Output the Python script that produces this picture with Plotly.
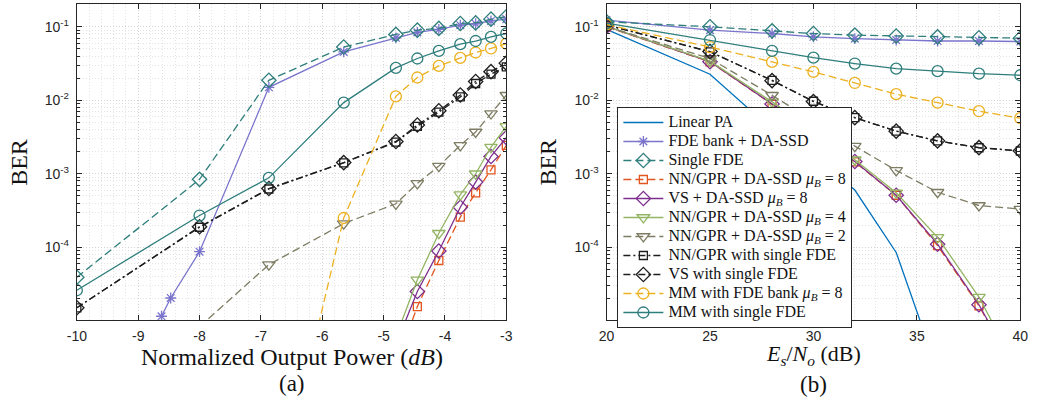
import plotly.graph_objects as go

# ---------------- data: panel (a) ----------------
P_common = [-10, -8, -6.87, -5.65, -4.8, -4.45, -4.1, -3.75, -3.5, -3.25, -3]

a_fde_bank_x = [-8.62, -8.47, -8, -6.87, -5.65, -4.8, -4.45, -4.1, -3.75, -3.5, -3.25, -3]
a_fde_bank_y = [1.15e-5, 2.04e-5, 8.7e-5, 0.015, 0.0456, 0.0708, 0.084, 0.092, 0.105, 0.11, 0.12, 0.127]

a_single_fde_y = [3.9e-5, 8.4e-4, 0.0187, 0.053, 0.0787, 0.090, 0.095, 0.111, 0.113, 0.127, 0.137]

a_nn8_x = [-4.8, -4.45, -4.1, -3.75, -3.5, -3.25, -3]
a_nn8_y = [2.5e-6, 1.56e-5, 6.6e-5, 2.57e-4, 5.5e-4, 1.13e-3, 2.43e-3]

a_vs8_x = [-4.8, -4.45, -4.1, -3.75, -3.5, -3.25, -3]
a_vs8_y = [4.7e-6, 2.5e-5, 8.9e-5, 3.5e-4, 7.7e-4, 1.72e-3, 3.1e-3]

a_nn4_x = [-4.8, -4.45, -4.1, -3.75, -3.5, -3.25, -3]
a_nn4_y = [6e-6, 3.6e-5, 1.55e-4, 5.2e-4, 1.0e-3, 2.3e-3, 4.4e-3]

a_nn2_x = [-8, -6.87, -5.65, -4.8, -4.45, -4.1, -3.75, -3.5, -3.25, -3]
a_nn2_y = [8.3e-6, 5.8e-5, 2.1e-4, 3.9e-4, 7.4e-4, 1.27e-3, 2.43e-3, 3.7e-3, 6.6e-3, 0.0117]

a_nn_single_y = [1.5e-5, 1.87e-4, 6.2e-4, 1.41e-3, 2.7e-3, 4.4e-3, 6.9e-3, 0.0111, 0.0169, 0.0227, 0.0285]
a_vs_single_y = [1.5e-5, 1.9e-4, 6.3e-4, 1.42e-3, 2.75e-3, 4.6e-3, 7.2e-3, 0.0118, 0.018, 0.0245, 0.032]

a_mm_bank_x = [-6.87, -5.65, -4.8, -4.45, -4.1, -3.75, -3.5, -3.25, -3]
a_mm_bank_y = [1.2e-8, 2.5e-4, 0.0113, 0.0204, 0.0294, 0.0378, 0.0447, 0.0507, 0.059]

a_mm_single_y = [2.6e-5, 2.7e-4, 8.8e-4, 9.3e-3, 0.0276, 0.037, 0.047, 0.058, 0.064, 0.073, 0.081]

# ---------------- data: panel (b) ----------------
EsNo = [20, 25, 28, 30, 32, 34, 36, 38, 40]
EsNo_linear = [20, 25, 28, 30, 32, 34, 36]

b_linear_y = [0.092, 0.0226, 4.0e-3, 1.8e-3, 6.0e-4, 8.5e-5, 2.1e-6]
b_fde_bank_y = [0.123, 0.090, 0.081, 0.073, 0.069, 0.066, 0.064, 0.064, 0.063]
b_single_fde_y = [0.117, 0.100, 0.088, 0.081, 0.077, 0.075, 0.073, 0.071, 0.070]
b_nn8_y = [0.100, 0.0333, 0.0088, 0.0036, 1.45e-3, 5.1e-4, 1.05e-4, 1.6e-5, 1.5e-6]
b_vs8_y = [0.101, 0.0335, 0.0089, 0.0036, 1.47e-3, 5.1e-4, 1.1e-4, 1.65e-5, 1.6e-6]
b_nn4_y = [0.101, 0.034, 0.0095, 0.0039, 1.55e-3, 5.5e-4, 1.36e-4, 2.1e-5, 1.8e-6]
b_nn2_y = [0.101, 0.037, 0.0117, 0.0052, 2.38e-3, 1.11e-3, 5.6e-4, 3.7e-4, 3.3e-4]
b_nn_single_y = [0.105, 0.0456, 0.0187, 0.0097, 5.8e-3, 3.8e-3, 2.8e-3, 2.26e-3, 2.04e-3]
b_vs_single_y = [0.106, 0.046, 0.0185, 0.0096, 5.8e-3, 3.8e-3, 2.8e-3, 2.27e-3, 2.05e-3]
b_mm_bank_y = [0.107, 0.053, 0.0333, 0.0243, 0.0172, 0.0121, 0.0093, 0.0071, 0.0057]
b_mm_single_y = [0.112, 0.066, 0.047, 0.038, 0.0316, 0.027, 0.0249, 0.023, 0.0219]

a_xticks = [-10, -9, -8, -7, -6, -5, -4, -3]
a_xticklabels = ["-10", "-9", "-8", "-7", "-6", "-5", "-4", "-3"]
b_xticks = [20, 25, 30, 35, 40]
b_xticklabels = ["20", "25", "30", "35", "40"]
y_ticks = [1e-4, 1e-3, 1e-2, 1e-1]
y_ticklabels = ["10<sup>-4</sup>", "10<sup>-3</sup>", "10<sup>-2</sup>", "10<sup>-1</sup>"]

mu = "<i>μ</i><sub><i>B</i></sub>"
names = {
    "linear": "Linear PA",
    "fde_bank": "FDE bank + DA-SSD",
    "single": "Single FDE",
    "nn8": "NN/GPR + DA-SSD " + mu + " = 8",
    "vs8": "VS + DA-SSD " + mu + " = 8",
    "nn4": "NN/GPR + DA-SSD " + mu + " = 4",
    "nn2": "NN/GPR + DA-SSD " + mu + " = 2",
    "nn_single": "NN/GPR with single FDE",
    "vs_single": "VS with single FDE",
    "mm_bank": "MM with FDE bank " + mu + " = 8",
    "mm_single": "MM with single FDE",
}

C_BLUE = "#0072BD"
C_FDEB = "#7A74CC"
C_TEAL = "#2E7E7C"
C_ORNG = "#E2561F"
C_PURP = "#7E2F8E"
C_GRN = "#93B564"
C_OLIV = "#7E7D63"
C_BLK = "#1E1E1E"
C_YEL = "#EDB120"

DASH = "8px,4px"
DASHDOT = "7px,3px,2px,3px"
LW = 1.3

styles = {
    "linear": dict(color=C_BLUE, dash="solid", symbol=None, size=0),
    "fde_bank": dict(color=C_FDEB, dash="solid", symbol="asterisk-open", size=9),
    "single": dict(color=C_TEAL, dash=DASH, symbol="diamond-open", size=11),
    "nn8": dict(color=C_ORNG, dash=DASH, symbol="square-open", size=8),
    "vs8": dict(color=C_PURP, dash="solid", symbol="diamond-open", size=11),
    "nn4": dict(color=C_GRN, dash="solid", symbol="triangle-down-open", size=11),
    "nn2": dict(color=C_OLIV, dash=DASH, symbol="triangle-down-open", size=11),
    "nn_single": dict(color=C_BLK, dash=DASHDOT, symbol="square-open", size=8),
    "vs_single": dict(color=C_BLK, dash=DASHDOT, symbol="diamond-open", size=11),
    "mm_bank": dict(color=C_YEL, dash=DASH, symbol="circle-open", size=11),
    "mm_single": dict(color=C_TEAL, dash="solid", symbol="circle-open", size=11),
}

fig = go.Figure()


def add(key, x, y, xa, ya, showlegend):
    s = styles[key]
    mode = "lines" if s["symbol"] is None else "lines+markers"
    tr = dict(
        x=x, y=y, mode=mode, xaxis=xa, yaxis=ya,
        name="<span style='font-size:16px'>" + names[key] + "</span>",
        showlegend=showlegend, legendgroup=key,
        line=dict(color=s["color"], width=LW, dash=s["dash"]),
    )
    if s["symbol"] is not None:
        tr["marker"] = dict(symbol=s["symbol"], size=s["size"], color=s["color"],
                            line=dict(color=s["color"], width=1.3))
    fig.add_trace(go.Scatter(**tr))


# panel (a)
add("fde_bank", a_fde_bank_x, a_fde_bank_y, "x", "y", False)
add("single", P_common, a_single_fde_y, "x", "y", False)
add("nn8", a_nn8_x, a_nn8_y, "x", "y", False)
add("vs8", a_vs8_x, a_vs8_y, "x", "y", False)
add("nn4", a_nn4_x, a_nn4_y, "x", "y", False)
add("nn2", a_nn2_x, a_nn2_y, "x", "y", False)
add("nn_single", P_common, a_nn_single_y, "x", "y", False)
add("vs_single", P_common, a_vs_single_y, "x", "y", False)
add("mm_bank", a_mm_bank_x, a_mm_bank_y, "x", "y", False)
add("mm_single", P_common, a_mm_single_y, "x", "y", False)

# panel (b)
add("linear", EsNo_linear, b_linear_y, "x2", "y2", True)
add("fde_bank", EsNo, b_fde_bank_y, "x2", "y2", True)
add("single", EsNo, b_single_fde_y, "x2", "y2", True)
add("nn8", EsNo, b_nn8_y, "x2", "y2", True)
add("vs8", EsNo, b_vs8_y, "x2", "y2", True)
add("nn4", EsNo, b_nn4_y, "x2", "y2", True)
add("nn2", EsNo, b_nn2_y, "x2", "y2", True)
add("nn_single", EsNo, b_nn_single_y, "x2", "y2", True)
add("vs_single", EsNo, b_vs_single_y, "x2", "y2", True)
add("mm_bank", EsNo, b_mm_bank_y, "x2", "y2", True)
add("mm_single", EsNo, b_mm_single_y, "x2", "y2", True)

W, H = 1047, 403
AX = "#262626"
GRID = "#d4d4d4"
MGRID = "#e4e4e4"
GDASH = "1px,2px"
TICKFONT = dict(family="Liberation Sans, Arial, sans-serif", size=14, color=AX)
SERIF = "Liberation Serif, Times New Roman, serif"

minor_y = [k * 10.0 ** e for e in range(-6, 0) for k in range(2, 10)]

ydom = [(H - 320) / H, (H - 4) / H]
common_x = dict(showline=True, linecolor=AX, linewidth=1, mirror="ticks",
                ticks="inside", ticklen=5, tickcolor=AX, tickwidth=1,
                showgrid=True, gridcolor=GRID, griddash=GDASH, gridwidth=1,
                zeroline=False, tickfont=TICKFONT, tickmode="array",
                ticklabelstandoff=3)
common_y = dict(type="log", range=[-4.99, -0.69], showline=True, linecolor=AX,
                linewidth=1, mirror="ticks", ticks="inside", ticklen=5,
                tickcolor=AX, tickwidth=1, showgrid=True, gridcolor=GRID,
                griddash=GDASH, gridwidth=1, zeroline=False, tickfont=TICKFONT,
                tickmode="array", tickvals=y_ticks, ticktext=y_ticklabels,
                domain=ydom, ticklabelstandoff=4,
                minor=dict(tickmode="array", tickvals=minor_y, ticks="inside",
                           ticklen=3, tickcolor=AX, showgrid=True,
                           gridcolor=MGRID, griddash=GDASH, gridwidth=1))

fig.update_layout(
    width=W, height=H,
    margin=dict(l=0, r=0, t=0, b=0),
    paper_bgcolor="white", plot_bgcolor="white",
    xaxis=dict(common_x, domain=[68 / W, 505 / W], range=[-10, -3],
               tickvals=a_xticks, ticktext=a_xticklabels, anchor="y",
               minor=dict(dtick=0.2, ticks="", showgrid=True, gridcolor=MGRID,
                          griddash=GDASH, gridwidth=1)),
    yaxis=dict(common_y, anchor="x"),
    xaxis2=dict(common_x, domain=[607 / W, 1028 / W], range=[20, 40],
                tickvals=b_xticks, ticktext=b_xticklabels, anchor="y2",
                minor=dict(dtick=1, ticks="", showgrid=True, gridcolor=MGRID,
                           griddash=GDASH, gridwidth=1)),
    yaxis2=dict(common_y, anchor="x2"),
    showlegend=True,
    legend=dict(x=618 / W, y=1 - 107 / H, xanchor="left", yanchor="top",
                bgcolor="white", bordercolor=AX, borderwidth=1,
                font=dict(family=SERIF, size=11, color="#111111"),
                itemwidth=40, tracegroupgap=0),
)

ann = [
    dict(text="BER", x=9 / W, y=1 - 162 / H, textangle=-90, size=24),
    dict(text="BER", x=547 / W, y=1 - 162 / H, textangle=-90, size=24),
    dict(text="Normalized Output Power (<i>dB</i>)", x=286.5 / W, y=1 - 357 / H, textangle=0, size=24),
    dict(text="(a)", x=286.5 / W, y=1 - 383 / H, textangle=0, size=23),
    dict(text="<i>E</i><sub><i>s</i></sub>/<i>N</i><sub><i>o</i></sub> (dB)", x=817.5 / W, y=1 - 355 / H, textangle=0, size=22),
    dict(text="(b)", x=817.5 / W, y=1 - 384 / H, textangle=0, size=23),
]
for a in ann:
    fig.add_annotation(text=a["text"], x=a["x"], y=a["y"], xref="paper", yref="paper",
                       xanchor="center", yanchor="middle", showarrow=False,
                       textangle=a["textangle"],
                       font=dict(family=SERIF, size=a["size"], color="#111111"))

fig.write_html("out.html")
